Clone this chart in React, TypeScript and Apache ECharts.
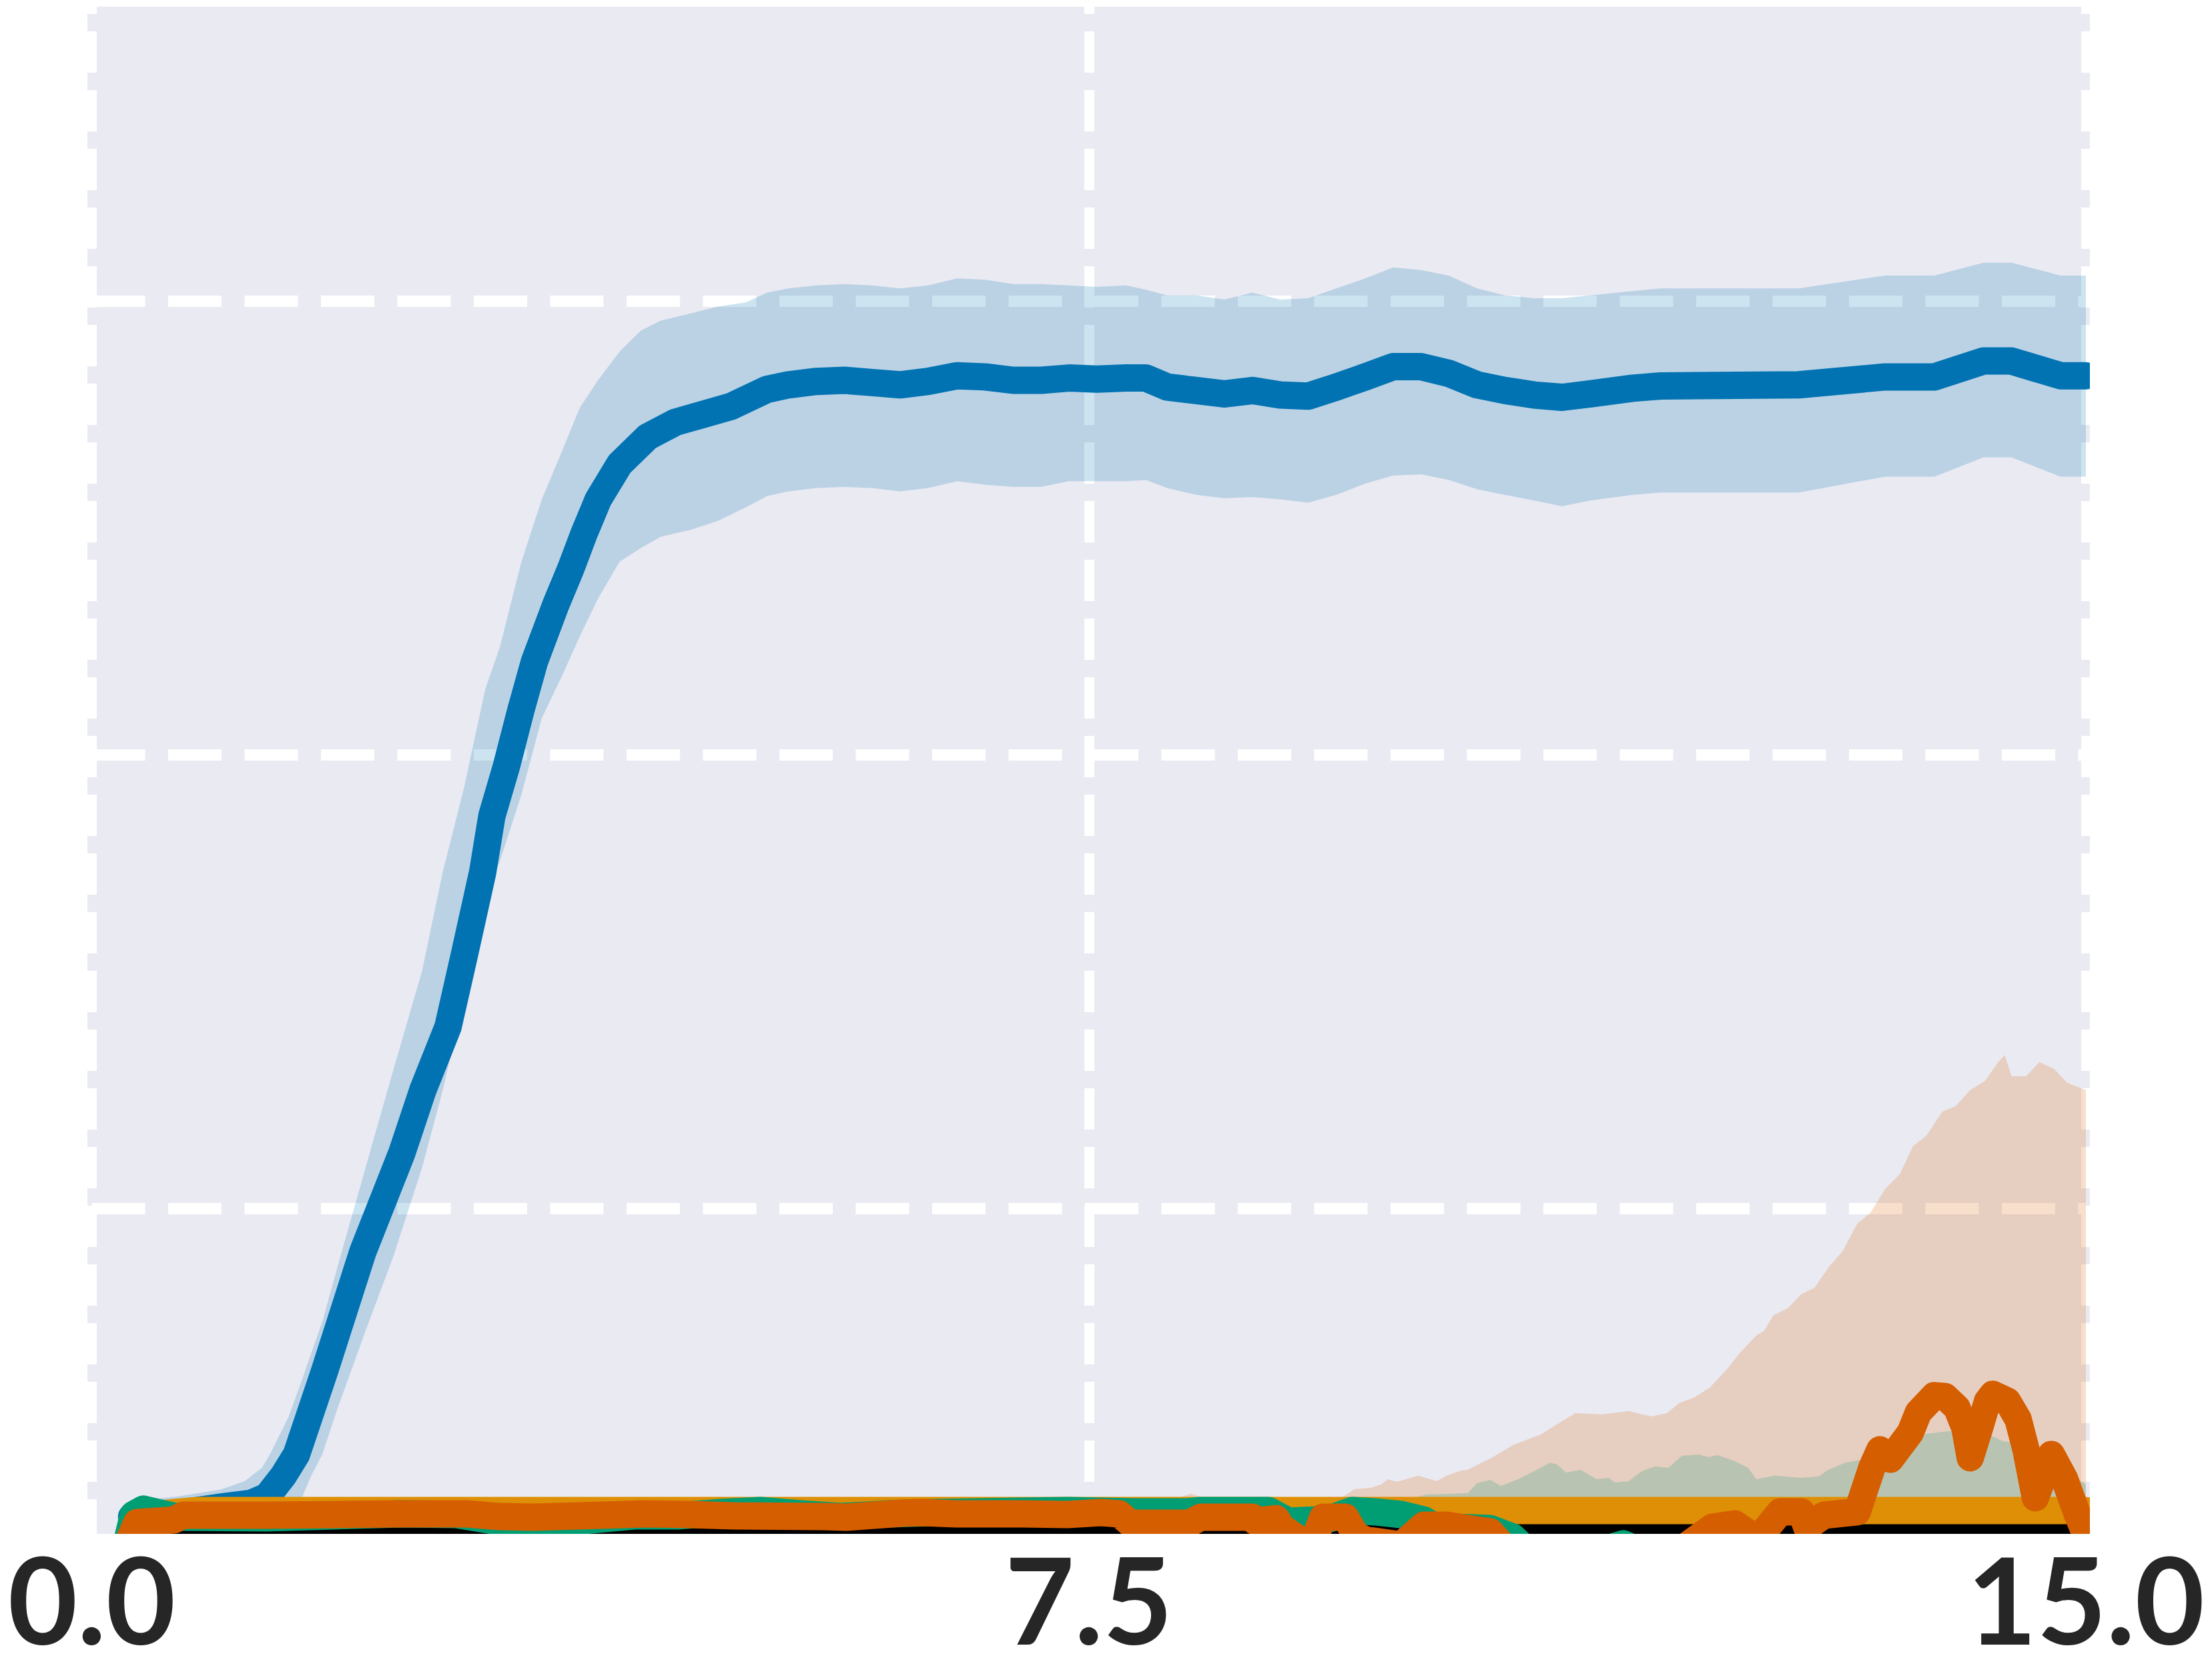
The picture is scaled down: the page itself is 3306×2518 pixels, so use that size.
import React, { useEffect, useRef } from 'react';
import * as echarts from 'echarts';

// ---- data (x: 0..15, y: arbitrary linear units, gridlines at 20/40/60) ----
const xTicks = [0, 7.5, 15];

const blueMean: [number, number][] = [
  [0.3, 6.4], [0.7, 6.6], [1.0, 6.85], [1.2, 7.0], [1.32, 7.3], [1.44, 8.2], [1.54, 9.15],
  [1.75, 12.8], [2.04, 18.1], [2.33, 22.4], [2.49, 25.2], [2.68, 28.0], [2.8, 31.1],
  [2.94, 34.8], [3.01, 37.3], [3.12, 39.5], [3.23, 42.0], [3.33, 44.1], [3.49, 46.6],
  [3.6, 48.15], [3.7, 49.7], [3.81, 51.25], [3.97, 52.8], [4.18, 54.0], [4.39, 54.65],
  [4.6, 55.0], [4.81, 55.35], [5.08, 56.1], [5.24, 56.3], [5.45, 56.45], [5.66, 56.5],
  [5.87, 56.4], [6.08, 56.3], [6.29, 56.45], [6.51, 56.7], [6.72, 56.65], [6.93, 56.5],
  [7.14, 56.5], [7.35, 56.6], [7.56, 56.55], [7.78, 56.6], [7.93, 56.6], [8.09, 56.2],
  [8.31, 56.05], [8.52, 55.9], [8.73, 56.05], [8.94, 55.85], [9.15, 55.8], [9.36, 56.2],
  [9.58, 56.65], [9.79, 57.1], [10.0, 57.1], [10.21, 56.8], [10.42, 56.3], [10.63, 56.05],
  [10.85, 55.85], [11.06, 55.75], [11.27, 55.9], [11.59, 56.15], [11.8, 56.25],
  [12.84, 56.3], [13.49, 56.65], [13.86, 56.65], [14.23, 57.35], [14.44, 57.35],
  [14.81, 56.7], [15.0, 56.7],
];

// [x, lower, upper]
const blueBand: [number, number, number][] = [
  [0.31, 6.3, 7.1], [0.65, 6.4, 7.3], [0.97, 6.5, 7.6], [1.15, 6.5, 7.97], [1.28, 6.55, 8.56],
  [1.34, 6.55, 9.15], [1.48, 6.6, 10.8], [1.585, 7.3, 12.49], [1.65, 8.2, 13.6],
  [1.734, 9.15, 15.0], [1.85, 11.2, 17.45], [2.06, 14.6, 21.8], [2.27, 17.9, 26.13],
  [2.485, 21.8, 30.47], [2.64, 25.2, 34.82], [2.8, 29.2, 38.54], [2.96, 33.6, 42.88],
  [3.07, 35.3, 44.74], [3.23, 38.2, 48.46], [3.385, 41.6, 51.25], [3.54, 43.5, 53.42],
  [3.67, 45.2, 55.28], [3.81, 46.9, 56.52], [3.97, 48.5, 57.76], [4.13, 49.1, 58.69],
  [4.28, 49.6, 59.13], [4.5, 49.9, 59.44], [4.71, 50.3, 59.75], [4.92, 50.9, 59.93],
  [5.08, 51.4, 60.37], [5.24, 51.6, 60.55], [5.45, 51.75, 60.68], [5.66, 51.8, 60.74],
  [5.87, 51.75, 60.68], [6.08, 51.6, 60.55], [6.29, 51.75, 60.68], [6.51, 52.05, 60.99],
  [6.72, 51.9, 60.93], [6.93, 51.8, 60.74], [7.14, 51.8, 60.74], [7.35, 52.05, 60.68],
  [7.56, 52.05, 60.62], [7.78, 52.05, 60.68], [7.93, 52.1, 60.49], [8.09, 51.75, 60.24],
  [8.31, 51.45, 60.24], [8.52, 51.3, 60.06], [8.73, 51.35, 60.37], [8.94, 51.25, 60.06],
  [9.15, 51.1, 60.12], [9.36, 51.45, 60.55], [9.58, 51.95, 60.99], [9.79, 52.3, 61.48],
  [10.0, 52.35, 61.36], [10.21, 52.1, 61.11], [10.42, 51.7, 60.55], [10.63, 51.45, 60.24],
  [10.85, 51.2, 60.12], [11.06, 50.95, 60.12], [11.27, 51.2, 60.24], [11.59, 51.45, 60.43],
  [11.8, 51.55, 60.55], [12.84, 51.55, 60.55], [13.49, 52.25, 61.12], [13.86, 52.25, 61.12],
  [14.23, 53.1, 61.68], [14.44, 53.1, 61.68], [14.81, 52.25, 61.12], [15.0, 52.25, 61.12],
];

const vermMean: [number, number][] = [
  [0.289, 5.47], [0.339, 6.15], [0.615, 6.26], [0.69, 6.47], [1.317, 6.47], [2.32, 6.53],
  [2.82, 6.53], [3.07, 6.41], [3.32, 6.38], [3.83, 6.47], [4.16, 6.53], [4.49, 6.5],
  [4.83, 6.44], [5.5, 6.41], [5.67, 6.38], [6.09, 6.56], [6.25, 6.59], [6.5, 6.53],
  [7.0, 6.53], [7.34, 6.5], [7.59, 6.59], [7.73, 6.53], [7.81, 6.12], [8.26, 6.12],
  [8.34, 6.38], [8.73, 6.38], [8.75, 6.21], [8.91, 6.32], [8.95, 5.94], [9.11, 5.29],
  [9.18, 5.15], [9.26, 6.38], [9.43, 6.38], [9.51, 5.59], [9.58, 5.38], [9.85, 5.15],
  [10.02, 6.03], [10.19, 6.03], [10.35, 5.88], [10.52, 5.74], [10.62, 5.09], [10.85, 4.44],
  [11.6, 4.44], [11.99, 5.09], [12.19, 5.94], [12.36, 6.09], [12.53, 5.41], [12.7, 6.62],
  [12.86, 6.62], [12.9, 5.94], [13.03, 6.47], [13.28, 6.62], [13.39, 8.56], [13.45, 9.35],
  [13.53, 8.94], [13.68, 10.12], [13.74, 11.0], [13.86, 11.74], [13.94, 11.7], [14.03, 11.2],
  [14.09, 10.32], [14.13, 9.0], [14.2, 10.32], [14.26, 11.5], [14.3, 11.8], [14.41, 11.5],
  [14.49, 10.7], [14.55, 9.35], [14.62, 7.24], [14.74, 9.15], [14.84, 8.06], [14.93, 6.6],
  [15.0, 5.6],
];

const vermBand: [number, number, number][] = [
  [0.3, 4.5, 6.9], [2.0, 4.5, 7.0], [4.0, 4.5, 7.05], [6.0, 4.5, 7.1], [7.9, 4.5, 7.15],
  [8.15, 4.5, 7.2], [8.27, 4.5, 7.42], [8.38, 4.5, 7.2], [9.35, 4.5, 7.2], [9.41, 4.5, 7.29],
  [9.5, 4.5, 7.62], [9.62, 4.5, 7.68], [9.7, 4.5, 7.82], [9.75, 4.5, 8.06], [9.82, 4.5, 7.94],
  [9.92, 4.5, 8.12], [9.98, 4.5, 8.21], [10.05, 4.5, 8.09], [10.12, 4.5, 7.97],
  [10.19, 4.5, 8.21], [10.3, 4.5, 8.44], [10.35, 4.5, 8.47], [10.43, 4.5, 8.71],
  [10.53, 4.5, 9.0], [10.7, 4.5, 9.59], [10.9, 4.5, 10.03], [11.06, 4.5, 10.62],
  [11.16, 4.5, 10.97], [11.36, 4.5, 10.91], [11.56, 4.5, 11.06], [11.73, 4.5, 10.82],
  [11.85, 4.5, 10.97], [11.94, 4.5, 11.41], [12.05, 4.5, 11.65], [12.17, 4.5, 12.09],
  [12.31, 4.5, 12.97], [12.4, 4.5, 13.65], [12.52, 4.5, 14.38], [12.58, 4.5, 14.6],
  [12.65, 4.5, 15.29], [12.76, 4.5, 15.6], [12.86, 4.5, 16.21], [12.96, 4.5, 16.5],
  [13.07, 4.5, 17.44], [13.17, 4.5, 18.1], [13.28, 4.5, 19.32], [13.38, 4.5, 19.8],
  [13.49, 4.5, 20.85], [13.6, 4.5, 21.5], [13.7, 4.5, 22.74], [13.8, 4.5, 23.2],
  [13.92, 4.5, 24.26], [14.02, 4.5, 24.5], [14.13, 4.5, 25.21], [14.24, 4.5, 25.6],
  [14.34, 4.5, 26.44], [14.39, 4.5, 26.76], [14.44, 4.5, 25.82], [14.55, 4.5, 25.82],
  [14.65, 4.5, 26.44], [14.76, 4.5, 26.15], [14.86, 4.5, 25.53], [15.0, 4.5, 25.21],
];

const greenMean: [number, number][] = [
  [0.264, 5.3], [0.314, 6.5], [0.389, 6.74], [0.65, 6.38], [1.317, 6.35], [2.32, 6.53],
  [2.74, 6.5], [3.04, 6.21], [3.66, 6.21], [4.08, 6.44], [4.41, 6.44], [4.73, 6.59],
  [5.03, 6.68], [5.33, 6.53], [5.63, 6.41], [6.0, 6.53], [6.34, 6.59], [6.67, 6.62],
  [7.34, 6.68], [7.84, 6.62], [8.24, 6.62], [8.34, 6.68], [8.85, 6.68], [9.0, 6.21],
  [9.3, 6.29], [9.48, 6.68], [9.65, 6.62], [9.85, 6.5], [10.02, 6.26], [10.1, 5.97],
  [10.52, 5.88], [10.69, 5.5], [10.8, 4.88], [11.26, 4.74], [11.52, 5.21], [11.76, 4.59],
  [12.36, 4.44], [13.5, 4.5], [15.0, 4.4],
];

const greenBand: [number, number, number][] = [
  [0.26, 4.0, 6.6], [2.0, 4.0, 6.9], [5.0, 4.0, 6.95], [8.0, 4.0, 7.0], [9.85, 4.0, 7.09],
  [10.04, 4.0, 7.38], [10.35, 4.0, 7.44], [10.42, 4.0, 7.88], [10.52, 4.0, 8.03],
  [10.6, 4.0, 7.76], [10.73, 4.0, 8.06], [10.85, 4.0, 8.41], [10.97, 4.0, 8.79],
  [11.02, 4.0, 8.71], [11.09, 4.0, 8.35], [11.2, 4.0, 8.47], [11.32, 4.0, 8.06],
  [11.41, 4.0, 8.12], [11.46, 4.0, 7.91], [11.56, 4.0, 7.97], [11.66, 4.0, 8.41],
  [11.76, 4.0, 8.62], [11.86, 4.0, 8.56], [11.96, 4.0, 9.09], [12.09, 4.0, 9.15],
  [12.16, 4.0, 9.03], [12.23, 4.0, 9.12], [12.36, 4.0, 8.85], [12.46, 4.0, 8.56],
  [12.52, 4.0, 8.06], [12.66, 4.0, 8.21], [12.86, 4.0, 8.12], [12.99, 4.0, 8.18],
  [13.06, 4.0, 8.47], [13.19, 4.0, 8.79], [13.31, 4.0, 8.91], [13.39, 4.0, 9.15],
  [13.56, 4.0, 9.82], [13.76, 4.0, 10.03], [13.97, 4.0, 10.18], [14.17, 4.0, 10.32],
  [14.37, 4.0, 9.74], [14.57, 4.0, 9.59], [14.64, 4.0, 9.24], [14.82, 4.0, 8.56],
  [15.0, 4.0, 7.82],
];

const orangeMean: [number, number][] = [[0.55, 6.55], [0.8, 6.68], [15.0, 6.68]];
const blackMean: [number, number][] = [[0.55, 5.88], [15.0, 5.88]];

// ---- styling ----
const COLORS = {
  blue: '#0173B2',
  orange: '#DE8F05',
  green: '#029E73',
  verm: '#D55E00',
  black: '#000000',
  bg: '#EAEAF2',
};
const LW = 41;

function bandSeries(name: string, band: [number, number, number][], fill: string) {
  return {
    type: 'custom',
    name,
    clip: true,
    silent: true,
    z: 1,
    data: [[7.5, 30]],
    renderItem: (_params: any, api: any) => {
      const pts: number[][] = [];
      for (let i = 0; i < band.length; i++) pts.push(api.coord([band[i][0], band[i][2]]));
      for (let i = band.length - 1; i >= 0; i--) pts.push(api.coord([band[i][0], band[i][1]]));
      return { type: 'polygon', shape: { points: pts }, style: { fill } };
    },
  };
}

function lineSeries(name: string, data: [number, number][], color: string) {
  return {
    type: 'line',
    name,
    data,
    showSymbol: false,
    symbol: 'none',
    clip: true,
    silent: true,
    z: 2,
    lineStyle: { color, width: LW, cap: 'round', join: 'round' },
  };
}

export default function App() {
  const ref = useRef<HTMLDivElement>(null);
  useEffect(() => {
    if (!ref.current) return;
    const chart = echarts.init(ref.current, undefined, { renderer: 'svg' });
    chart.setOption({
      animation: false,
      backgroundColor: '#ffffff',
      grid: { left: 137.5, right: 180, top: 10, bottom: 219, containLabel: false, outerBoundsMode: 'none' },
      xAxis: {
        type: 'value',
        min: 0,
        max: 15,
        interval: 7.5,
        axisLine: { show: false },
        axisTick: { show: false },
        axisLabel: {
          show: true,
          margin: 6,
          lineHeight: 180,
          color: '#262626',
          fontSize: 180,
          fontWeight: 'bold',
          fontFamily: 'Lato, "DejaVu Sans", sans-serif',
          showMinLabel: true,
          showMaxLabel: true,
          formatter: (v: number) => (xTicks.indexOf(v) >= 0 ? v.toFixed(1) : ''),
        },
        splitLine: {
          show: true,
          lineStyle: { color: '#ffffff', width: 15, type: [62, 26], dashOffset: 51 },
        },
      },
      yAxis: {
        type: 'value',
        min: 5.647,
        max: 72.97,
        splitNumber: 3,
        axisLine: { show: false },
        axisTick: { show: false },
        axisLabel: { show: false },
        splitLine: {
          show: true,
          showMinLine: false,
          showMaxLine: false,
          lineStyle: { color: '#ffffff', width: 17, type: [80, 34.5] },
        },
      },
      graphic: [
        {
          type: 'rect', z: -10, silent: true,
          shape: { x: 131, y: 10, width: 3001, height: 2289 },
          style: { fill: COLORS.bg },
        },
        {
          type: 'rect', z: 100, silent: true,
          shape: { x: 0, y: 2299, width: 3306, height: 28 },
          style: { fill: '#ffffff' },
        },
        {
          type: 'rect', z: 100, silent: true,
          shape: { x: 3132, y: 0, width: 174, height: 2327 },
          style: { fill: '#ffffff' },
        },
      ],
      series: [
        bandSeries('blue band', blueBand, 'rgba(1,115,178,0.2)'),
        bandSeries('vermillion band', vermBand, 'rgba(213,94,0,0.2)'),
        bandSeries('green band', greenBand, 'rgba(2,158,115,0.2)'),
        lineSeries('blue', blueMean, COLORS.blue),
        lineSeries('black', blackMean, COLORS.black),
        lineSeries('orange', orangeMean, COLORS.orange),
        lineSeries('green', greenMean, COLORS.green),
        lineSeries('vermillion', vermMean, COLORS.verm),
      ],
    });
    return () => chart.dispose();
  }, []);
  return (
    <div
      ref={ref}
      style={{ position: 'absolute', left: 0, top: 0, width: 3306, height: 2518 }}
    />
  );
}
